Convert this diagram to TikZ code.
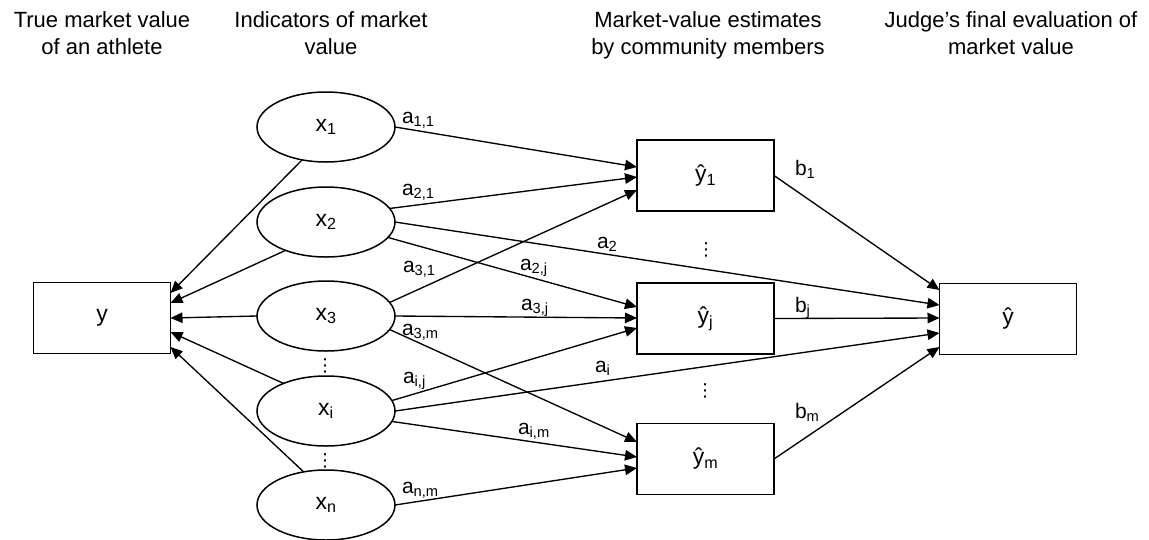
\documentclass[tikz,border=0pt]{standalone}
\usepackage{fontspec}
\setmainfont{Liberation Sans}
\newfontfamily\symfont{DejaVu Sans}
\usetikzlibrary{shapes.geometric,arrows.meta,calc}
\begin{document}
\begin{tikzpicture}[x=1pt,y=-1pt,
  every node/.style={inner sep=0pt, outer sep=0pt},
  ovalnode/.style={ellipse, draw, line width=1.5pt, minimum width=138pt, minimum height=70pt, font=\fontsize{23}{27}\selectfont},
  boxnode/.style={rectangle, draw, line width=1.5pt, minimum width=137pt, minimum height=71pt, font=\fontsize{23}{27}\selectfont},
  titlenode/.style={align=center, anchor=north, font=\fontsize{22}{27}\selectfont},
  lbl/.style={anchor=base west, font=\fontsize{21}{25}\selectfont},
  conn/.style={line width=1.35pt, -{Triangle[length=12pt,width=10.5pt]}},
  vdotsnode/.style={font=\symfont\fontsize{18}{18}\selectfont},
]
\useasboundingbox (0,0) rectangle (1149,539);

% titles
\node[titlenode] (t1) at (102,12) {True market value\\of an athlete};
\node[titlenode] (t2) at (331,12) {Indicators of market\\value};
\node[titlenode] (t3) at (708,12) {Market-value estimates\\by community members};
\node[titlenode] (t4) at (1011,12) {Judge’s final evaluation of\\market value};

% nodes
\node[boxnode] (y) at (102,318) {y};
\node[ovalnode] (x1) at (326,127) {x\textsubscript{1}};
\node[ovalnode] (x2) at (326,222) {x\textsubscript{2}};
\node[ovalnode] (x3) at (326,316) {x\textsubscript{3}};
\node[ovalnode] (xi) at (326,411) {x\textsubscript{i}};
\node[ovalnode] (xn) at (326,505) {x\textsubscript{n}};
\node[boxnode] (y1) at (705.5,175.5) {ŷ\textsubscript{1}};
\node[boxnode] (yj) at (705.5,318.5) {ŷ\textsubscript{j}};
\node[boxnode] (ym) at (705.5,459) {ŷ\textsubscript{m}};
\node[boxnode] (yh) at (1008,319) {ŷ};

% vertical dots
\node[vdotsnode] (d1) at (325,366) {⋮};
\node[vdotsnode] (d2) at (325,461) {⋮};
\node[vdotsnode] (d3) at (706,250) {⋮};
\node[vdotsnode] (d4) at (705,391) {⋮};

% to y
\draw[conn] (x1.234) -- ([yshift=25pt]y.east);
\draw[conn] (x2.215) -- ([yshift=15pt]y.east);
\draw[conn] (x3.west) -- (y.east);
\draw[conn] (xi.147) -- ([yshift=-14pt]y.east);
\draw[conn] (xn.124) -- ([yshift=-29pt]y.east);

% to y1
\draw[conn] (x1.east) -- ([yshift=8.5pt]y1.west);
\draw[conn] (x2.12) -- ([yshift=-1.5pt]y1.west);
\draw[conn] (x3.12) -- ([yshift=-14.5pt]y1.west);

% to yj
\draw[conn] (x2.-14) -- ([yshift=11.5pt]yj.west);
\draw[conn] (x3.east) -- ([yshift=0.5pt]yj.west);
\draw[conn] (xi.9) -- ([yshift=-9.5pt]yj.west);

% to ym
\draw[conn] (x3.-12) -- ([yshift=17pt]ym.west);
\draw[conn] (xi.-9) -- ([yshift=2pt]ym.west);
\draw[conn] (xn.east) -- ([yshift=-9pt]ym.west);

% to yh
\draw[conn] (y1.east) -- ([yshift=29pt]yh.west);
\draw[conn] (x2.east) -- ([yshift=14pt]yh.west);
\draw[conn] (yj.east) -- ([yshift=1pt]yh.west);
\draw[conn] (xi.east) -- ([yshift=-14pt]yh.west);
\draw[conn] (ym.east) -- ([yshift=-28pt]yh.west);

% labels
\node[lbl] (l11) at (402,123) {a\textsubscript{1,1}};
\node[lbl] (l21) at (402,195) {a\textsubscript{2,1}};
\node[lbl] (l2) at (597,248) {a\textsubscript{2}};
\node[lbl] (l31) at (403,272) {a\textsubscript{3,1}};
\node[lbl] (l2j) at (520,270) {a\textsubscript{2,j}};
\node[lbl] (l3j) at (521,310) {a\textsubscript{3,j}};
\node[lbl] (l3m) at (402,335) {a\textsubscript{3,m}};
\node[lbl] (lij) at (403,383) {a\textsubscript{i,j}};
\node[lbl] (li) at (595,372) {a\textsubscript{i}};
\node[lbl] (lim) at (518,434) {a\textsubscript{i,m}};
\node[lbl] (lnm) at (402,493) {a\textsubscript{n,m}};
\node[lbl] (b1) at (795,175) {b\textsubscript{1}};
\node[lbl] (bj) at (795,312) {b\textsubscript{j}};
\node[lbl] (bm) at (795,418) {b\textsubscript{m}};
\end{tikzpicture}
\end{document}
